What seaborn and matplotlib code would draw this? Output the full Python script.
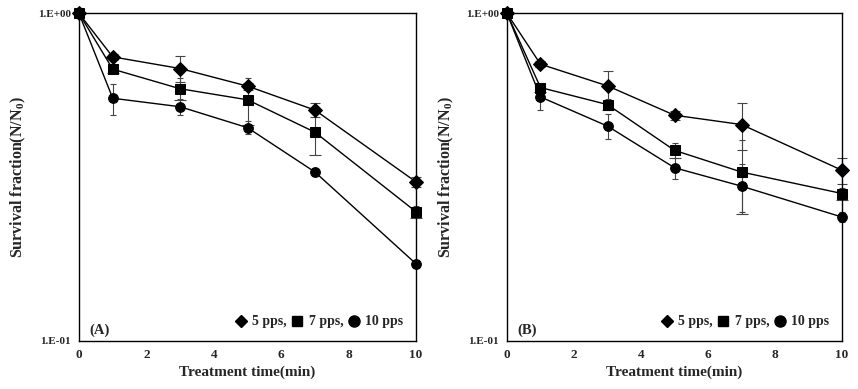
import pandas as pd
import matplotlib
matplotlib.use("Agg")
import matplotlib.pyplot as plt
import seaborn as sns
from matplotlib.lines import Line2D
from matplotlib.ticker import FixedLocator, FixedFormatter, NullLocator

sns.set_style("white")
plt.rcParams['font.family'] = ['Liberation Serif', 'DejaVu Serif']
plt.rcParams['font.weight'] = 'bold'
plt.rcParams['mathtext.fontset'] = 'custom'
plt.rcParams['mathtext.rm'] = 'Liberation Serif:bold'
plt.rcParams['mathtext.bf'] = 'Liberation Serif:bold'

# ---------------------------
# Data
# ---------------------------
time = [0, 1, 3, 5, 7, 10]
series = ["5 pps", "7 pps", "10 pps"]

a_5 = [1.0, 0.737, 0.679, 0.600, 0.507, 0.306]
a_7 = [1.0, 0.676, 0.589, 0.545, 0.434, 0.248]
a_10 = [1.0, 0.551, 0.519, 0.448, 0.328, 0.172]
a_5_err = [0.0, 0.015, 0.060, 0.015, 0.025, 0.010]
a_7_err = [0.0, 0.020, 0.045, 0.090, 0.065, 0.010]
a_10_err = [0.0, 0.060, 0.030, 0.020, 0.010, 0.005]

b_5 = [1.0, 0.700, 0.601, 0.489, 0.458, 0.332]
b_7 = [1.0, 0.594, 0.527, 0.382, 0.328, 0.282]
b_10 = [1.0, 0.556, 0.453, 0.338, 0.297, 0.239]
b_5_err = [0.0, 0.015, 0.066, 0.015, 0.075, 0.030]
b_7_err = [0.0, 0.020, 0.020, 0.020, 0.084, 0.012]
b_10_err = [0.0, 0.050, 0.040, 0.025, 0.050, 0.008]

markers = {"5 pps": "D", "7 pps": "s", "10 pps": "o"}
msizes = {"5 pps": 6.5, "7 pps": 6.5, "10 pps": 8}


def make_df(vals, errs):
    rows = []
    for name, v, e in zip(series, vals, errs):
        for t, y, err in zip(time, v, e):
            rows.append({"time": t, "sf": y, "err": err, "pps": name})
    return pd.DataFrame(rows)


panels = [
    ("(A)", make_df([a_5, a_7, a_10], [a_5_err, a_7_err, a_10_err])),
    ("(B)", make_df([b_5, b_7, b_10], [b_5_err, b_7_err, b_10_err])),
]

fig = plt.figure(figsize=(8.58, 3.89), dpi=100)
positions = [[0.0921, 0.1234, 0.3928, 0.842], [0.5909, 0.1234, 0.3905, 0.842]]

for (tag, df), pos in zip(panels, positions):
    ax = fig.add_axes(pos)
    for name in series:
        sub = df[df["pps"] == name]
        ax.errorbar(sub["time"], sub["sf"], yerr=sub["err"], fmt="none",
                    ecolor="#444444", elinewidth=0.8, capsize=2, capthick=0.8,
                    zorder=1)
    sns.lineplot(data=df, x="time", y="sf", style="pps", markers=markers,
                 dashes=False, color="black", linewidth=1.0, markersize=7,
                 markeredgecolor="black", legend=False, ax=ax, zorder=3)
    for line, name in zip(ax.get_lines(), series):
        line.set_markersize(msizes[name])

    ax.set_yscale("log")
    ax.set_ylim(0.1, 1.0)
    ax.set_xlim(0, 10)
    ax.yaxis.set_major_locator(FixedLocator([0.1, 1.0]))
    ax.yaxis.set_major_formatter(FixedFormatter(["1.E-01", "1.E+00"]))
    ax.yaxis.set_minor_locator(NullLocator())
    ax.set_xticks([0, 2, 4, 6, 8, 10])
    ax.tick_params(axis="both", length=0, pad=6)
    ax.tick_params(axis="y", labelsize=8)
    ax.tick_params(axis="x", labelsize=9.5)
    for lab in ax.get_xticklabels() + ax.get_yticklabels():
        lab.set_fontweight("bold")
    for sp in ax.spines.values():
        sp.set_color("black")
        sp.set_linewidth(1.0)
    for line in ax.get_lines():
        line.set_clip_on(False)

    ax.set_xlabel("Treatment time(min)", fontsize=11, fontweight="bold", labelpad=3)
    ax.set_ylabel(r"Survival fraction(N/N$_\mathbf{0}$)", fontsize=11.5,
                  fontweight="bold", labelpad=7)
    ax.text(0.03, 0.012, tag, transform=ax.transAxes, fontsize=10.5,
            fontweight="bold", ha="left", va="bottom")

    handles = [Line2D([], [], marker=markers[n], color="black", linestyle="none",
                      markersize=msizes[n]) for n in series]
    ax.legend(handles, ["5 pps,", "7 pps,", "10 pps"], ncol=3, frameon=False,
              loc="lower right", bbox_to_anchor=(1.0, 0.0),
              handletextpad=0.3, columnspacing=0.3, handlelength=1.0,
              prop={"weight": "bold", "size": 10})

fig.savefig("out.png", dpi=100)
